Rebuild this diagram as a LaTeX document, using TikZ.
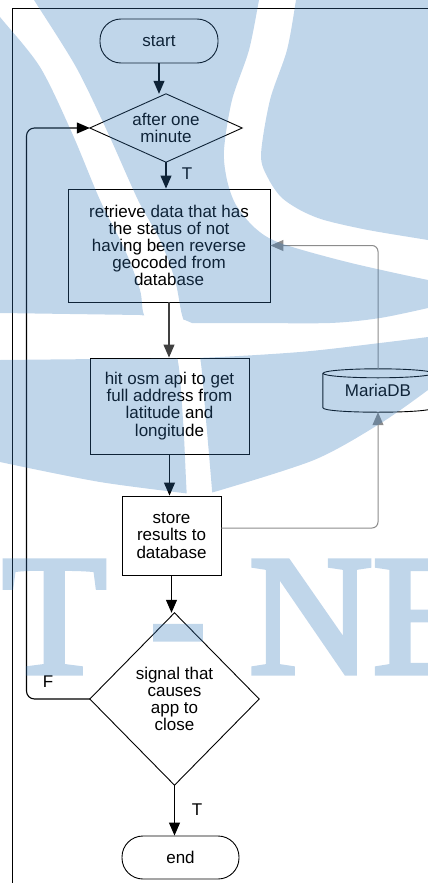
\documentclass[tikz,border=0pt]{standalone}
\usepackage{fontspec}
\setmainfont{Liberation Sans}
\newfontfamily\wmfont{Liberation Serif}[FakeBold=3]
\usetikzlibrary{arrows.meta}
\definecolor{wm}{RGB}{48,118,185}
\definecolor{dbline}{RGB}{140,140,140}
\definecolor{darkarr}{RGB}{64,64,64}
\tikzset{
  txt/.style={inner sep=0pt, align=center, font=\fontsize{17}{17.2}\selectfont},
  box/.style={txt, draw, line width=0.9pt},
  term/.style={box, rounded corners=21pt},
  dshape/.style={line width=0.9pt},
  arr/.style={line width=1.1pt, -{Triangle[width=11pt,length=13pt]}},
  garr/.style={draw=dbline, line width=1pt, rounded corners=6pt, -{Triangle[width=11pt,length=13pt]}},
  lbl/.style={inner sep=0pt, font=\fontsize{17}{17.2}\selectfont}
}
\begin{document}
\begin{tikzpicture}[x=1pt,y=-1pt]
\useasboundingbox (0,0) rectangle (428,883);

% frame
\draw[line width=1.5pt] (12.5,890) -- (12.5,8.5) -- (440,8.5);

% nodes
\node[term, minimum width=118pt, minimum height=44pt] (start) at (159,41) {start};
\node[txt, minimum width=152pt, minimum height=68pt] (d1) at (166,128) {after one\\minute};
\draw[dshape] (d1.north) -- (d1.east) -- (d1.south) -- (d1.west) -- cycle;
\node[box, minimum width=202pt, minimum height=113pt] (retrieve) at (169,245.5)
  {retrieve data that has\\the status of not\\having been reverse\\geocoded from\\database};
\node[box, minimum width=159pt, minimum height=96pt] (hit) at (169.5,406)
  {hit osm api to get\\full address from\\latitude and\\longitude};
\node[box, minimum width=99pt, minimum height=79pt] (store) at (171.5,535.5)
  {store\\results to\\database};
\node[txt, minimum width=169pt, minimum height=172pt] (d2) at (174.5,699)
  {signal that\\causes\\app to\\close};
\draw[dshape] (d2.north) -- (d2.east) -- (d2.south) -- (d2.west) -- cycle;
\node[term, minimum width=117pt, minimum height=43pt] (end) at (180.5,857.5) {end};

% database cylinder
\node[txt, minimum width=110pt, minimum height=34pt] (db) at (378,390.5) {\raisebox{-3.5pt}{MariaDB}};
\draw[dshape] (db.north) ellipse [x radius=55pt, y radius=4.5pt];
\draw[dshape] (db.north west) -- (db.south west) .. controls +(0,-6pt) and +(0,-6pt) .. (db.south east) -- (db.north east);

% connectors
\draw[arr] (start.south) -- (start.south |- d1.north);
\draw[arr] (d1.south) -- (d1.south |- retrieve.north);
\draw[arr, darkarr] (retrieve.south) -- (retrieve.south |- hit.north);
\draw[arr] (hit.south) -- (hit.south |- store.north);
\draw[arr] (store.south) -- (store.south |- d2.north);
\draw[arr] (d2.south) -- (d2.south |- end.north);
\coordinate (lp) at (26.5,0);
\draw[arr, rounded corners=8pt] (d2.west) -| (lp |- d1.west) -- (d1.west);
\draw[garr] ([yshift=4.5pt]db.north) |- (retrieve.east);
\draw[garr] ([yshift=7.5pt]store.east) -| ([yshift=-4.5pt]db.south);

% labels
\node[lbl] (t1) at (187,174) {T};
\node[lbl] (t2) at (197,810) {T};
\node[lbl] (f) at (48,682) {F};

% watermark overlay
\begin{scope}[even odd rule]
\clip (-20,-20) rectangle (460,900)
  plot[smooth] coordinates {(-22,-10) (0,17) (40,67) (72,133) (100,200) (125,250) (140,290) (144,315) (160,340) (177,357) (183,420) (186,480) (188,520)}
  -- plot[smooth] coordinates {(214,520) (212,490) (206,420) (200,357) (190,335) (182,315) (175,280) (160,240) (138,200) (108,133) (76,67) (34,0) (28,-10)}
  -- cycle
  plot[smooth] coordinates {(261,-10) (259,0) (249,50) (232,100) (224,150) (227,180) (236,205) (255,228) (280,243) (347,262) (428,280) (460,285)}
  -- plot[smooth] coordinates {(460,245) (428,240) (368,230) (324,220) (300,210) (281,197) (268,178) (261,155) (270,100) (287,50) (296,0) (297,-10)}
  -- cycle;
\fill[wm, fill opacity=0.3, nonzero rule]
  (-10,-10) -- (440,-10) -- (440,306)
  -- plot[smooth] coordinates {(428,308) (380,318) (330,323) (250,323) (192,323)}
  -- (185,320) -- (140,315) -- (0,313) -- (-10,313) -- cycle
  (-10,361) -- plot[smooth] coordinates {(0,360) (100,359) (197,358) (300,352) (380,343) (428,337)}
  -- (440,335) -- (440,385)
  -- plot[smooth] coordinates {(428,390) (381,423) (314,460) (214,492)}
  -- plot[smooth] coordinates {(200,495) (100,482) (0,462)}
  -- (-10,460) -- cycle;
\end{scope}
\begin{scope}[transparency group, opacity=0.3]
\node[anchor=base west, inner sep=0pt, text=wm, font=\wmfont\fontsize{171}{171}\selectfont] (wmtext) at (2,673) {T - NE};
\end{scope}
\end{tikzpicture}
\end{document}
